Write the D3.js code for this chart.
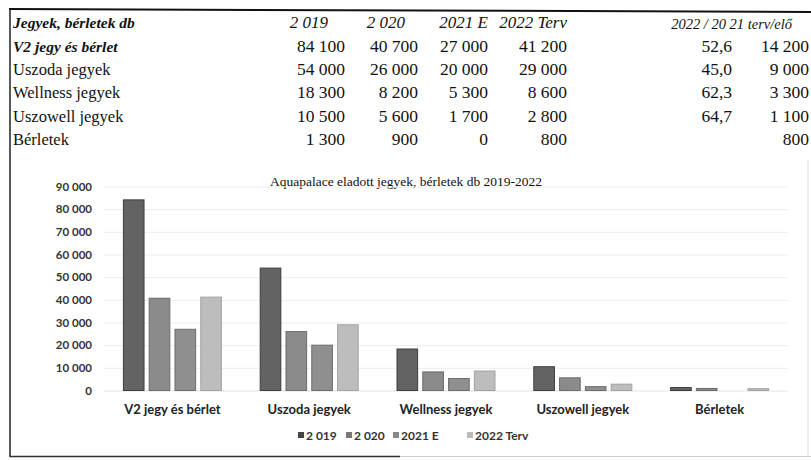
<!DOCTYPE html>
<html>
<head>
<meta charset="utf-8">
<script src="https://cdn.jsdelivr.net/npm/d3@7"></script>
<style>
  body { margin: 0; background: #fff; }
  svg { display: block; }
</style>
</head>
<body>
<svg id="chart" width="811" height="460"></svg>
<script>
// table + chart data
var categories = ["V2 jegy és bérlet", "Uszoda jegyek", "Wellness jegyek", "Uszowell jegyek", "Bérletek"];
var series = ["2 019", "2 020", "2021 E", "2022 Terv"];
var v2019 = [84100, 54000, 18300, 10500, 1300];
var v2020 = [40700, 26000, 8200, 5600, 900];
var v2021 = [27000, 20000, 5300, 1700, 0];
var v2022 = [41200, 29000, 8600, 2800, 800];
var ratio = ["52,6", "45,0", "62,3", "64,7", ""];
var diff = [14200, 9000, 3300, 1100, 800];
var yTicks = [0, 10000, 20000, 30000, 40000, 50000, 60000, 70000, 80000, 90000];

var huLocale = d3.formatLocale({ decimal: ",", thousands: " ", grouping: [3], currency: ["", ""] });
var fmt = huLocale.format(",d");

var svg = d3.select("#chart");

// frame lines (scanned page)
svg.append("line").attr("x1", 9).attr("y1", 9).attr("x2", 811).attr("y2", 12)
    .attr("stroke", "#111").attr("stroke-width", 2);
svg.append("line").attr("x1", 10).attr("y1", 9).attr("x2", 10).attr("y2", 457)
    .attr("stroke", "#222").attr("stroke-width", 1.5);
svg.append("line").attr("x1", 10).attr("y1", 456.5).attr("x2", 400).attr("y2", 456.5)
    .attr("stroke", "#333").attr("stroke-width", 1.5);
svg.append("line").attr("x1", 400).attr("y1", 456.5).attr("x2", 811).attr("y2", 456.5)
    .attr("stroke", "#ccc").attr("stroke-width", 1);
svg.append("line").attr("x1", 808).attr("y1", 160).attr("x2", 808).attr("y2", 456)
    .attr("stroke", "#ddd").attr("stroke-width", 1);

// ---- table ----
var rowY = [51.5, 75, 98, 121.5, 145];
var colX = [345, 418, 488, 567];
var table = svg.append("g").style("font-family", "'Liberation Serif', 'Times New Roman', serif").style("fill", "#111");

table.append("text").attr("x", 13).attr("y", 28).text("Jegyek, bérletek db")
    .style("font-size", "15.5px").style("font-style", "italic").style("font-weight", "bold");

var headEnd = [328, 405, 488, 567];
series.forEach(function (s, i) {
    table.append("text").attr("x", headEnd[i]).attr("y", 28).attr("text-anchor", "end")
        .text(s).style("font-size", "17px").style("font-style", "italic");
});
table.append("text").attr("x", 792).attr("y", 29).attr("text-anchor", "end")
    .text("2022 / 20 21 terv/elő").style("font-size", "14.5px").style("font-style", "italic");

var cols = [v2019, v2020, v2021, v2022];
categories.forEach(function (c, r) {
    var lbl = table.append("text").attr("x", 13).attr("y", rowY[r]).text(c).style("font-size", "16.5px");
    if (r === 0) lbl.style("font-style", "italic").style("font-weight", "bold").style("font-size", "15.5px");
    cols.forEach(function (col, i) {
        table.append("text").attr("x", colX[i]).attr("y", rowY[r]).attr("text-anchor", "end")
            .text(fmt(col[r])).style("font-size", "17.5px");
    });
    table.append("text").attr("x", 732).attr("y", rowY[r]).attr("text-anchor", "end")
        .text(ratio[r]).style("font-size", "17.5px");
    table.append("text").attr("x", 809).attr("y", rowY[r]).attr("text-anchor", "end")
        .text(fmt(diff[r])).style("font-size", "17.5px");
});

// ---- chart ----
svg.append("text").attr("x", 406).attr("y", 186).attr("text-anchor", "middle")
    .style("font-family", "'Liberation Serif', serif").style("font-size", "13.5px").style("fill", "#111")
    .text("Aquapalace eladott jegyek, bérletek db 2019-2022");

var y = d3.scaleLinear().domain([0, 90000]).range([390.5, 186.5]);
var x0 = d3.scaleBand().domain(categories).range([104, 788]);
var x1 = d3.scaleBand().domain(series).range([-49, 49]).paddingInner(0.2);

// gridlines
svg.append("g").selectAll("line").data(yTicks.slice(1)).enter().append("line")
    .attr("x1", 104).attr("x2", 788)
    .attr("y1", function (d) { return y(d) + 0.5; })
    .attr("y2", function (d) { return y(d) + 0.5; })
    .attr("stroke", "#ececec").attr("stroke-width", 1);
svg.append("line").attr("x1", 104).attr("x2", 788).attr("y1", y(0) + 0.5).attr("y2", y(0) + 0.5)
    .attr("stroke", "#e4e4e4");

// y axis
var yAxis = svg.append("g").attr("transform", "translate(95,0)")
    .call(d3.axisLeft(y).tickValues(yTicks).tickFormat(fmt).tickSize(0).tickPadding(3));
yAxis.select(".domain").remove();
yAxis.selectAll("text").style("font-family", "Lato, 'Open Sans', sans-serif")
    .style("font-size", "11.5px").style("font-weight", "bold").style("fill", "#333");

var fills = ["#636363", "#8b8b8b", "#8f8f8f", "#bdbdbd"];
var strokes = ["#3d3d3d", "#6a6a6a", "#6c6c6c", "#a3a3a3"];
var table2 = categories.map(function (c, i) {
    return { cat: c, vals: [v2019[i], v2020[i], v2021[i], v2022[i]] };
});

var groups = svg.append("g").selectAll("g").data(table2).enter().append("g")
    .attr("transform", function (d) { return "translate(" + (x0(d.cat) + x0.bandwidth() / 2) + ",0)"; });
groups.selectAll("rect").data(function (d) {
    return d.vals.map(function (v, i) { return { s: series[i], v: v, i: i }; });
}).enter().filter(function (d) { return d.v > 0; }).append("rect")
    .attr("x", function (d) { return x1(d.s); })
    .attr("width", x1.bandwidth())
    .attr("y", function (d) { return y(d.v); })
    .attr("height", function (d) { return y(0) - y(d.v); })
    .attr("fill", function (d) { return fills[d.i]; })
    .attr("stroke", function (d) { return strokes[d.i]; })
    .attr("stroke-width", 1);

// category labels
svg.append("g").selectAll("text").data(categories).enter().append("text")
    .attr("x", function (d) { return x0(d) + x0.bandwidth() / 2; })
    .attr("y", 414)
    .attr("text-anchor", "middle")
    .style("font-family", "Lato, 'Open Sans', sans-serif").style("font-size", "13px")
    .style("font-weight", "bold").style("fill", "#222")
    .text(function (d) { return d; });

// legend
var legX = [298, 346, 393, 467];
var legFill = ["#444", "#777", "#888", "#bbb"];
var leg = svg.append("g").selectAll("g").data(series).enter().append("g")
    .attr("transform", function (d, i) { return "translate(" + legX[i] + ",436)"; });
leg.append("rect").attr("x", 0).attr("y", -4).attr("width", 6).attr("height", 6)
    .attr("fill", function (d, i) { return legFill[i]; });
leg.append("text").attr("x", 8).attr("y", 4)
    .style("font-family", "Lato, 'Open Sans', sans-serif").style("font-size", "12px")
    .style("font-weight", "bold").style("fill", "#333")
    .text(function (d) { return d; });
</script>
</body>
</html>
